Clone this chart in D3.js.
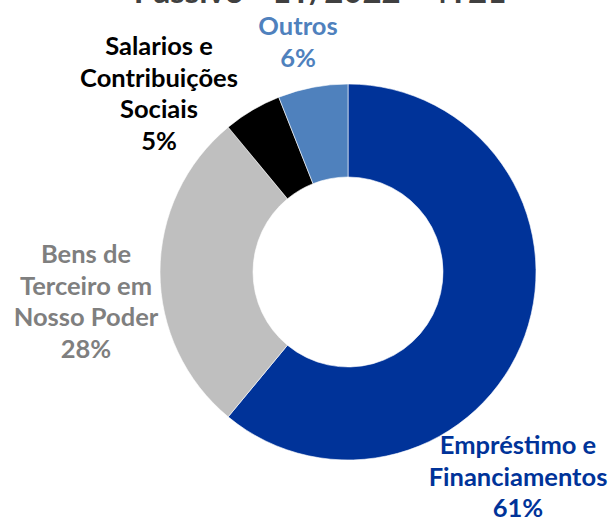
<!DOCTYPE html>
<html>
<head>
<meta charset="utf-8">
<script src="https://cdn.jsdelivr.net/npm/d3@7"></script>
<style>
  body { margin: 0; background: #fff; }
  text { font-family: Lato, "Open Sans", sans-serif; font-weight: bold; }
</style>
</head>
<body>
<div id="master"></div>
<script>
let categories = ["Empréstimo e Financiamentos", "Bens de Terceiro em Nosso Poder", "Salarios e Contribuições Sociais", "Outros"]
let values = [61, 28, 5, 6]
let labelLines = [["Empréstimo e", "Financiamentos"], ["Bens de", "Terceiro em", "Nosso Poder"], ["Salarios e", "Contribuições", "Sociais"], ["Outros"]]
let colors = ["#003399", "#BFBFBF", "#000000", "#4F81BD"]
let labelColors = ["#003399", "#7F7F7F", "#000000", "#4F81BD"]
let title = "Passivo - 1T/2022 - 4T21"

let w = 609, h = 523
let cx = 348, cy = 272
let outerR = 188, innerR = 95

let svg = d3.select("#master").append("svg").attr("width", w).attr("height", h)

// title is cut off at the top of the picture
svg.append("text")
  .attr("x", 320).attr("y", 3)
  .attr("text-anchor", "middle")
  .attr("font-size", 33)
  .attr("fill", "#404040")
  .text(title)

let pie = d3.pie().sort(null).value(d => d)
let arc = d3.arc().innerRadius(innerR).outerRadius(outerR)

let g = svg.append("g").attr("transform", "translate(" + cx + "," + cy + ")")

g.selectAll("path")
  .data(pie(values))
  .enter()
  .append("path")
  .attr("d", arc)
  .attr("fill", (d, i) => colors[i])
  .attr("stroke", "#fff")
  .attr("stroke-width", 0.6)

// label anchors (center x, first baseline)
let labelPos = [[518, 454], [86, 263], [159, 55], [298, 35]]
let lineH = 31.5

let labels = svg.selectAll("text.lbl")
  .data(values)
  .enter()
  .append("text")
  .attr("class", "lbl")
  .attr("text-anchor", "middle")
  .attr("font-size", 25.5)
  .attr("fill", (d, i) => labelColors[i])

labels.each(function(d, i) {
  let t = d3.select(this)
  let lines = labelLines[i].concat([d + "%"])
  lines.forEach((s, k) => {
    t.append("tspan")
      .attr("x", labelPos[i][0])
      .attr("y", labelPos[i][1] + k * lineH)
      .text(s)
  })
})
</script>
</body>
</html>
